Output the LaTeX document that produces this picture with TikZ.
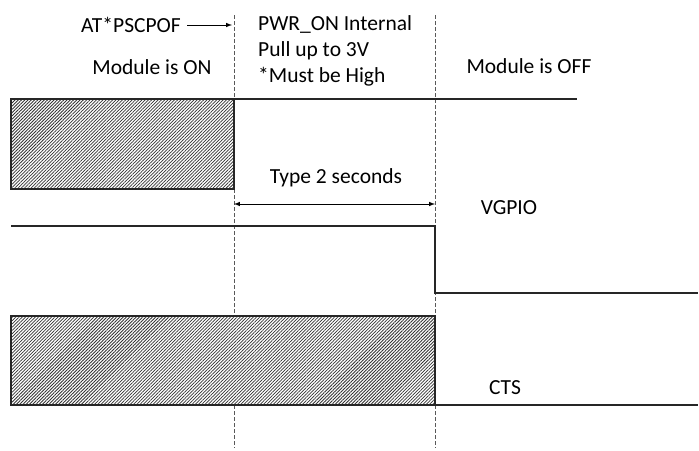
\documentclass[tikz,border=0pt]{standalone}
\usepackage{fontspec}
\setmainfont{Carlito}
\usetikzlibrary{positioning,patterns.meta}
\tikzset{>=latex}
\tikzstyle{every node}=[font=\fontsize{21.5}{26}\selectfont,inner sep=0pt]
\tikzstyle{signal}=[draw=black!85,line width=1.3pt]
\tikzstyle{hatched}=[signal,preaction={fill=white},pattern={Lines[angle=45,distance=2.3pt,line width=0.75pt]},pattern color=black!80]
\tikzstyle{marker}=[draw=black!65,line width=0.9pt,dash pattern=on 3.5pt off 2.5pt]
\tikzstyle{span}=[draw=black,line width=1pt]

\begin{document}
\begin{tikzpicture}[x=1pt,y=-1pt]
	\useasboundingbox (0,0) rectangle (699,450);
	% time markers
	\coordinate (off) at (234,15);
	\coordinate (offend) at (234,448);
	\coordinate (low) at (435,15);
	\coordinate (lowend) at (435,448);
	\draw[marker] (off) -- (offend);
	\draw[marker] (low) -- (lowend);
	
	% texts on top
	\node (atcmd) at (131,25) {AT*PSCPOF};
	\coordinate (atarrow) at (232,25);
	\draw[span,->] ([xshift=6pt]atcmd.east) -- (atarrow);
	\node (modon) at (152,67) {Module is ON};
	\node[anchor=north west,align=left] (pwron) at (258,15) {PWR\_ON Internal\\Pull up to 3V\\*Must be High};
	\node (modoff) at (529,66) {Module is OFF};
	
	% PWR_ON
	\draw[hatched] (11,99) rectangle (234,189);
	\coordinate (pwrhi) at (234,99);
	\coordinate (pwrend) at (577,99);
	\draw[signal] (pwrhi) -- (pwrend);
	
	% delay
	\coordinate (dstart) at (234,204);
	\coordinate (dstop) at (435,204);
	\draw[span,<->] (dstart) -- (dstop);
	\node (delay) at (336,178) {Type 2 seconds};
	
	% VGPIO
	\coordinate (vstart) at (11,226);
	\coordinate (vfall) at (435,226);
	\coordinate (vlow) at (435,293);
	\coordinate (vend) at (698,293);
	\draw[signal] (vstart) -- (vfall) -- (vlow) -- (vend);
	\node (vgpio) at (509,208) {VGPIO};
	
	% CTS
	\draw[hatched] (11,316) rectangle (435,405);
	\coordinate (cstart) at (435,405);
	\coordinate (cend) at (698,405);
	\draw[signal] (cstart) -- (cend);
	\node (cts) at (505,388) {CTS};
\end{tikzpicture}
\end{document}
